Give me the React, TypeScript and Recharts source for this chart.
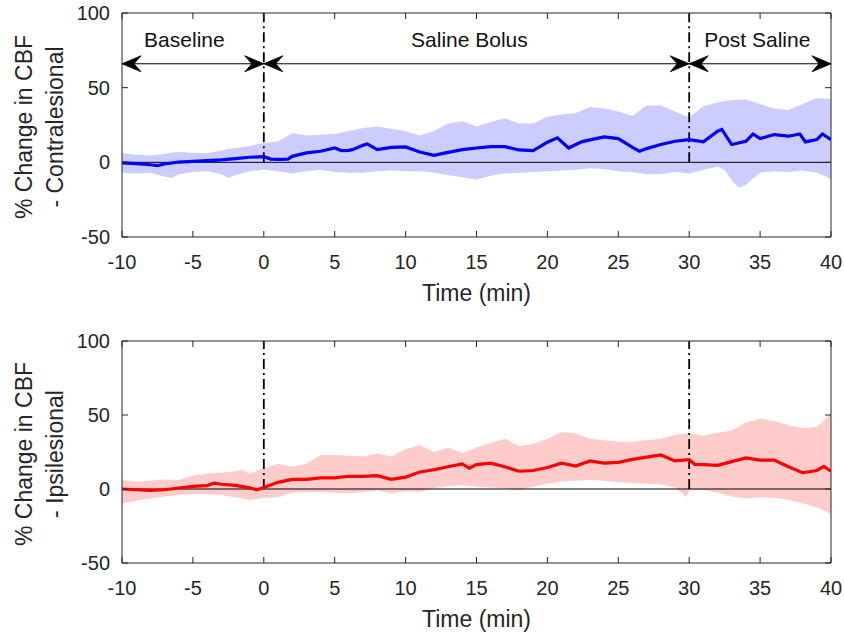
import React from "react";
import {
  ComposedChart,
  Line,
  Area,
  XAxis,
  YAxis,
  ReferenceLine,
  ReferenceDot,
} from "recharts";

const TIME_TICKS = [-10, -5, 0, 5, 10, 15, 20, 25, 30, 35, 40];
const CBF_TICKS = [-50, 0, 50, 100];

// phase boundaries (min) and the annotation row of the top panel
const PHASE_BOUNDS = [0, 30];
const PHASE_NAMES = ["Baseline", "Saline Bolus", "Post Saline"];
const PHASE_LABEL_X = [-5.6, 14.5, 34.8];
const PHASE_LABEL_Y = 82;
const PHASE_ARROW_Y = 66;
// [time, direction] : -1 points left, 1 points right
const ARROW_TIPS: [number, number][] = [
  [-10, -1], [0, 1], [0, -1], [30, 1], [30, -1], [40, 1],
];

// contralesional: [time, mean %]
const contraMean: [number, number][] = [
  [-10, -0.4], [-9, -0.9], [-8, -1.6], [-7.5, -2.2], [-7, -1.1], [-6, 0.2],
  [-5, 0.7], [-4, 1.1], [-3, 1.6], [-2, 2.5], [-1, 3.4], [0, 3.8],
  [0.5, 2.2], [1, 2.0], [1.7, 2.2], [2, 4.0], [3, 6.3], [4, 7.4],
  [5, 9.6], [5.5, 7.8], [6, 8], [6.25, 8.5], [7, 11.4], [7.3, 12.3],
  [8, 8.5], [9, 10], [10, 10.3], [11, 6.9], [12, 4.7], [13, 6.7],
  [14, 8.5], [15, 9.6], [16, 10.5], [17, 10.5], [18, 8.3], [19, 7.8],
  [19.3, 9.6], [20, 13.5], [20.7, 16.4], [21.5, 9.6], [22.4, 13.7], [23, 15],
  [24, 17], [25, 15.9], [26, 10], [26.5, 7.4], [27, 9.2], [28, 11.9],
  [29, 14.1], [30, 15.2], [31, 13.7], [32, 20.8], [32.3, 22], [33, 11.9],
  [34, 14.1], [34.5, 19], [35, 15.9], [36, 18.6], [37, 17.5], [37.8, 19],
  [38.2, 13.7], [39, 15.2], [39.4, 19], [40, 15.2],
];

// contralesional: [time, lower, upper]
const contraBand: [number, number, number][] = [
  [-10, -7, 6], [-9, -7.5, 5], [-8, -7, 4.5], [-7, -9.5, 5.5], [-6.5, -10.5, 6.5],
  [-6, -8, 7], [-5, -6.5, 6.5], [-4, -6, 6], [-3, -8, 8], [-2.5, -10.5, 9],
  [-2, -8.5, 9.5], [-1, -6, 11], [0, -5, 13], [1, -6, 14], [2, -7.5, 19.5],
  [3, -6, 18], [4, -5, 18.5], [5, -6.5, 19], [6, -7, 21], [7, -7, 23],
  [8, -6, 24], [9, -5.5, 22.5], [10, -6, 20.8], [11, -6, 18], [12, -7, 21],
  [13, -8.5, 26], [14, -10, 27.5], [15, -11.5, 24], [16, -9, 27], [17, -7.5, 29.5],
  [18, -7, 26], [19, -6.5, 26], [20, -6, 30.5], [21, -5.5, 32], [22, -5, 33],
  [23, -4, 37], [24, -4.5, 36], [25, -6, 34], [26, -6.5, 31], [27, -8, 38],
  [28, -8, 38], [29, -6.5, 34], [30, -7.5, 30], [31, -5, 37.5], [32, -3, 40],
  [32.5, -5, 41], [33, -12, 41.5], [33.5, -17, 42], [34, -15, 42], [35, -7, 39],
  [36, -6, 36], [37, -6.5, 35], [38, -5.5, 39], [39, -7, 43], [40, -11, 42.5],
];

// ipsilesional: [time, mean %]
const ipsiMean: [number, number][] = [
  [-10, 0], [-9, -0.5], [-8, -1], [-7, -0.5], [-6, 0.7], [-5, 1.8],
  [-4, 2.3], [-3.5, 4], [-3, 3.2], [-2, 2.5], [-1, 0.8], [-0.5, -0.5],
  [0, 1], [1, 4.5], [2, 6.5], [3, 6.5], [4, 7.5], [5, 7.5],
  [6, 8.6], [7, 8.5], [8, 9], [9, 6.5], [10, 8], [11, 11.5],
  [12, 13], [13, 15], [14, 17], [14.5, 14], [15, 16.5], [16, 17.5],
  [17, 15], [18, 12], [19, 12.5], [20, 14.5], [21, 17.5], [22, 15.5],
  [23, 19], [24, 17.5], [25, 18], [26, 20], [27, 21.5], [28, 23],
  [29, 19], [30, 19.8], [30.4, 16.6], [31, 16.5], [32, 16], [33, 18.5],
  [34, 21], [35, 19.5], [36, 19.5], [37, 15], [38, 11], [39, 12.5],
  [39.5, 15.3], [40, 12],
];

// ipsilesional: [time, lower, upper]
const ipsiBand: [number, number, number][] = [
  [-10, -10, 6], [-9, -8, 5], [-8, -6.5, 5.5], [-7, -5, 6.5], [-6, -4, 6],
  [-5, -3.5, 9], [-4, -3.5, 10.5], [-3, -4, 11], [-2, -5.5, 12], [-1.5, -6.5, 13],
  [-1, -7.5, 10.5], [0, -6, 14], [1, -5.5, 17], [2, -2.5, 15], [3, -2, 17],
  [4, -2, 23], [5, -2.5, 23], [6, -3, 22.5], [7, -2, 22], [8, -1, 24],
  [9, -3, 22], [10, -1.5, 27], [11, -2, 29.5], [12, 0.5, 25], [13, 2, 28],
  [14, 2.5, 24.5], [15, 1.5, 28], [16, 1, 31], [17, 0.5, 34], [18, -0.5, 29],
  [19, 1.5, 30.5], [20, 3.5, 34], [21, 5, 38.5], [22, 5.5, 37.5], [23, 6, 34],
  [24, 5.5, 33], [25, 4.5, 32], [26, 4, 32], [27, 3.5, 33], [28, 3, 34],
  [29, 1, 36.5], [29.8, -5.5, 37.5], [30, -1, 37.5], [31, -0.5, 36], [32, -2.5, 38],
  [33, -5, 39.5], [34, -6.5, 45], [35, -5.5, 47.5], [36, -6, 46], [37, -7.5, 43],
  [38, -9.5, 41], [39, -12.5, 42], [39.5, -14.5, 46], [40, -17, 52],
];

const INK = "#262626";
const FONT = '"Liberation Sans", Arial, Helvetica, sans-serif';

function ArrowHead({ cx, cy, dir }: { cx: number; cy: number; dir: number }) {
  const s = -dir; // wings go back against the pointing direction
  const d = `M${cx},${cy} L${cx + s * 19},${cy - 8} L${cx + s * 12},${cy} L${cx + s * 19},${cy + 8} Z`;
  return <path d={d} fill="#000" stroke="#000" strokeWidth={0.8} strokeLinejoin="round" />;
}

function xLabel(props: any) {
  const vb = props.viewBox || {};
  return (
    <text
      x={vb.x + vb.width / 2}
      y={vb.y + 64}
      textAnchor="middle"
      fontSize={23}
      fill={INK}
      fontFamily={FONT}
    >
      Time (min)
    </text>
  );
}

function makeYLabel(lines: string[]) {
  return (props: any) => {
    const vb = props.viewBox || {};
    const cx = vb.x + 32;
    const cy = vb.y + vb.height / 2 + 2;
    return (
      <text
        transform={`rotate(-90 ${cx} ${cy})`}
        textAnchor="middle"
        fontSize={23}
        fill={INK}
        fontFamily={FONT}
      >
        {lines.map((l, i) => (
          <tspan key={i} x={cx} y={cy + i * 31}>
            {l}
          </tspan>
        ))}
      </text>
    );
  };
}

interface PanelProps {
  mean: [number, number][];
  band: [number, number, number][];
  color: string;
  sideLabel: string[];
  showPhases: boolean;
  height: number;
  margin: { top: number; right: number; bottom: number; left: number };
}

function Panel({ mean, band, color, sideLabel, showPhases, height, margin }: PanelProps) {
  const meanData = mean.map(([t, v]) => ({ t, v }));
  const bandData = band.map(([t, lo, hi]) => ({ t, range: [lo, hi] }));

  return (
    <ComposedChart width={844} height={height} margin={margin}>
      <XAxis
        dataKey="t"
        type="number"
        domain={[-10, 40]}
        ticks={TIME_TICKS}
        interval={0}
        allowDataOverflow
        height={60}
        tickSize={-6}
        tickMargin={24}
        stroke={INK}
        tick={{ fill: INK, fontSize: 20 }}
        label={{ content: xLabel }}
      />
      <XAxis
        xAxisId="top"
        orientation="top"
        dataKey="t"
        type="number"
        domain={[-10, 40]}
        ticks={TIME_TICKS}
        interval={0}
        allowDataOverflow
        height={1}
        tickSize={-6}
        tickFormatter={() => ""}
        stroke={INK}
      />
      <YAxis
        type="number"
        domain={[-50, 100]}
        ticks={CBF_TICKS}
        interval={0}
        allowDataOverflow
        width={122}
        tickSize={-6}
        tickMargin={18}
        stroke={INK}
        tick={{ fill: INK, fontSize: 20 }}
        label={{ content: makeYLabel(sideLabel) }}
      />
      <YAxis
        yAxisId="right"
        orientation="right"
        type="number"
        domain={[-50, 100]}
        ticks={CBF_TICKS}
        interval={0}
        allowDataOverflow
        width={1}
        tickSize={-6}
        tickFormatter={() => ""}
        stroke={INK}
      />

      <Area
        data={bandData}
        dataKey="range"
        type="linear"
        stroke="none"
        fill={color}
        fillOpacity={0.2}
        dot={false}
        activeDot={false}
        isAnimationActive={false}
      />

      <ReferenceLine y={0} stroke="#000" strokeWidth={1} />
      {PHASE_BOUNDS.map((b) => (
        <ReferenceLine
          key={b}
          segment={[{ x: b, y: 0 }, { x: b, y: 100 }]}
          stroke="#000"
          strokeWidth={1.8}
          strokeDasharray="10 4 2 4"
        />
      ))}

      <Line
        data={meanData}
        dataKey="v"
        type="linear"
        stroke={color}
        strokeWidth={3.2}
        dot={false}
        activeDot={false}
        isAnimationActive={false}
      />

      {showPhases && (
        <ReferenceLine
          segment={[{ x: -10, y: PHASE_ARROW_Y }, { x: 40, y: PHASE_ARROW_Y }]}
          stroke="#000"
          strokeWidth={1}
        />
      )}
      {showPhases &&
        ARROW_TIPS.map(([x, dir], i) => (
          <ReferenceDot
            key={`a${i}`}
            x={x}
            y={PHASE_ARROW_Y}
            r={0}
            ifOverflow="visible"
            shape={(p: any) => <ArrowHead cx={p.cx} cy={p.cy} dir={dir} />}
          />
        ))}
      {showPhases &&
        PHASE_NAMES.map((name, i) => (
          <ReferenceDot
            key={name}
            x={PHASE_LABEL_X[i]}
            y={PHASE_LABEL_Y}
            r={0}
            ifOverflow="visible"
            shape={(p: any) => (
              <text
                x={p.cx}
                y={p.cy}
                textAnchor="middle"
                dominantBaseline="central"
                fontSize={21}
                fill="#111"
                fontFamily={FONT}
              >
                {name}
              </text>
            )}
          />
        ))}
    </ComposedChart>
  );
}

export default function App() {
  return (
    <div style={{ width: 844, height: 637, background: "#fff", fontFamily: FONT }}>
      <style>{"body{margin:0;background:#fff}"}</style>
      <Panel
        mean={contraMean}
        band={contraBand}
        color="#0000ff"
        sideLabel={["% Change in CBF", "- Contralesional"]}
        showPhases
        height={320}
        margin={{ top: 12, right: 12, bottom: 23, left: 0 }}
      />
      <Panel
        mean={ipsiMean}
        band={ipsiBand}
        color="#ff0000"
        sideLabel={["% Change in CBF", "- Ipsilesional"]}
        showPhases={false}
        height={317}
        margin={{ top: 20, right: 12, bottom: 14, left: 0 }}
      />
    </div>
  );
}
